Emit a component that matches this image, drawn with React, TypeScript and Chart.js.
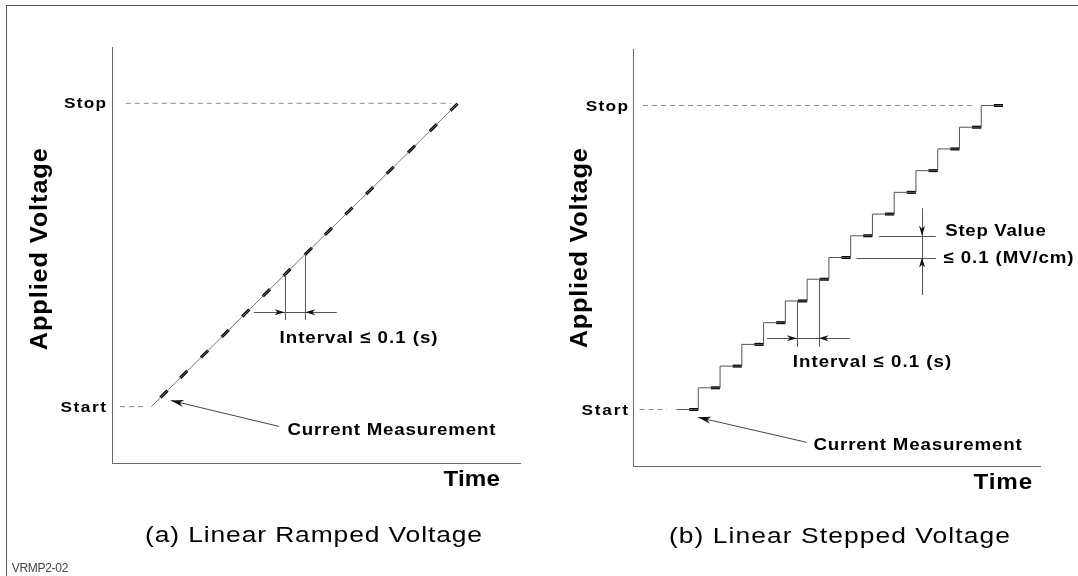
import React, { useEffect, useRef } from 'react';
import { Chart, registerables } from 'chart.js';

Chart.register(...registerables);

// ---------------- shared axis values ----------------
const voltageTickValues = [0, 14];
const voltageTickLabels = ['Start', 'Stop'];
const timeMin = 0;
const timeMax = 18.7;
const voltageMin = -2.6;
const voltageMax = 16.6;

// ---------------- (a) linear ramped voltage ----------------
const rampTimes = [1.8, 15.85];
const rampVolts = [0, 14];
const rampMeasureTimes = [2.38, 3.29, 4.24, 5.19, 6.13, 7.08, 8.02, 9.0, 9.92, 10.86, 11.81, 12.75, 13.73, 14.73, 15.67];
const rampMeasureVolts = [0.58, 1.49, 2.43, 3.38, 4.32, 5.26, 6.2, 7.17, 8.09, 9.03, 9.97, 10.91, 11.89, 12.88, 13.82];
const rampStartGuideTimes = [0.37, 1.51];
const rampStopGuideTimes = [0.63, 15.54];

// ---------------- (b) linear stepped voltage ----------------
const stepTimes = [2, 3, 4, 5, 6, 7, 8, 9, 10, 11, 12, 13, 14, 15, 16, 17];
const stepVolts = [0, 1, 2, 3, 4, 5, 6, 7, 8, 9, 10, 11, 12, 13, 14, 14];
const stepMeasureTimes = [2.79, 3.79, 4.79, 5.79, 6.79, 7.79, 8.79, 9.79, 10.79, 11.79, 12.79, 13.79, 14.79, 15.79, 16.79];
const stepMeasureVolts = [0, 1, 2, 3, 4, 5, 6, 7, 8, 9, 10, 11, 12, 13, 14];
const stepStartGuideTimes = [0.3, 1.56];
const stepStopGuideTimes = [0.46, 15.57];

// ---------------- texts ----------------
const yTitle = 'Applied Voltage';
const xTitle = 'Time';
const captionA = '(a) Linear Ramped Voltage';
const captionB = '(b) Linear Stepped Voltage';
const intervalText = 'Interval \u2264 0.1 (s)';
const measureText = 'Current Measurement';
const stepText1 = 'Step Value';
const stepText2 = '\u2264 0.1 (MV/cm)';
const figureId = 'VRMP2-02';

const FONT = '"Liberation Sans", Arial, Helvetica, sans-serif';
const AXIS = '#6a6a6a';
const W = 539;
const H = 576;

const pts = (xs: number[], ys: number[]) => xs.map((x, i) => ({ x, y: ys[i] }));

function drawLabel(ctx: any, text: string, x: number, y: number, o: any) {
  ctx.save();
  ctx.font = `${o.weight ?? 'bold'} ${o.size}px ${FONT}`;
  ctx.fillStyle = o.color ?? '#000';
  ctx.textBaseline = 'middle';
  ctx.textAlign = 'left';
  const sx = o.stretch ?? 1.1;
  ctx.letterSpacing = '0px';
  const natural = ctx.measureText(text).width;
  let total = natural * sx;
  if (o.width) {
    const ls = (o.width / sx - natural) / Math.max(1, text.length - 1);
    ctx.letterSpacing = `${ls}px`;
    total = o.width;
  }
  ctx.translate(x, y);
  if (o.rotate) ctx.rotate(-Math.PI / 2);
  const start = o.align === 'center' ? -total / 2 : o.align === 'right' ? -total : 0;
  ctx.scale(sx, 1);
  ctx.fillText(text, start / sx, 0);
  ctx.restore();
}

function makeDiagramPlugin(p: any) {
  return {
    id: 'diagram-' + p.key,
    afterDraw(chart: any) {
      const { ctx, chartArea: ca, scales } = chart;
      const X = (t: number) => scales.x.getPixelForValue(t);
      const Y = (v: number) => scales.y.getPixelForValue(v);
      const crisp = (v: number) => Math.round(v) + 0.5;

      ctx.save();
      ctx.lineWidth = 1;
      for (const s of p.segments) {
        let x1 = X(s.t1), y1 = Y(s.v1), x2 = X(s.t2), y2 = Y(s.v2);
        if (s.t1 === s.t2) { x1 = x2 = crisp(x1); }
        if (s.v1 === s.v2) { y1 = y2 = crisp(y1); }
        ctx.strokeStyle = s.color ?? '#555';
        ctx.beginPath();
        ctx.moveTo(x1, y1);
        ctx.lineTo(x2, y2);
        ctx.stroke();
      }
      for (const h of p.heads) {
        const tx = X(h.t), ty = Y(h.v);
        const fx = X(h.ft), fy = Y(h.fv);
        const a = Math.atan2(ty - fy, tx - fx);
        const len = h.len ?? 10;
        const half = h.half ?? 3;
        ctx.fillStyle = '#111';
        ctx.beginPath();
        ctx.moveTo(tx, ty);
        ctx.lineTo(tx - len * Math.cos(a) + half * Math.sin(a), ty - len * Math.sin(a) - half * Math.cos(a));
        ctx.lineTo(tx - len * 0.7 * Math.cos(a), ty - len * 0.7 * Math.sin(a));
        ctx.lineTo(tx - len * Math.cos(a) - half * Math.sin(a), ty - len * Math.sin(a) + half * Math.cos(a));
        ctx.closePath();
        ctx.fill();
      }
      ctx.restore();

      voltageTickValues.forEach((v, i) => {
        drawLabel(ctx, voltageTickLabels[i], ca.left - p.tickGap, Y(v) + 1, {
          size: 15, width: p.tickWidths[i], align: 'right', stretch: 1.15,
        });
      });

      for (const tx of p.texts) {
        drawLabel(ctx, tx.text, X(tx.t), Y(tx.v), { size: tx.size, width: tx.width, align: 'left', stretch: 1.1 });
      }

      const midY = (ca.top + ca.bottom) / 2;
      const midX = (ca.left + ca.right) / 2;
      drawLabel(ctx, yTitle, ca.left + p.yTitle.dx, midY + p.yTitle.dy, {
        size: 23, width: p.yTitle.width, align: 'center', rotate: true, stretch: 1.1,
      });
      drawLabel(ctx, xTitle, ca.right + p.xTitle.dx, ca.bottom + p.xTitle.dy, {
        size: 22, width: p.xTitle.width, align: 'left', stretch: 1.1,
      });
      drawLabel(ctx, p.caption.text, midX + p.caption.dx, ca.bottom + p.caption.dy, {
        size: 22, weight: 'normal', width: p.caption.width, align: 'center', stretch: 1.2,
      });
      if (p.figureId) {
        drawLabel(ctx, figureId, p.figureId.x, p.figureId.y, {
          size: 12, weight: 'normal', width: p.figureId.width, align: 'left', color: '#444', stretch: 1,
        });
      }
    },
  };
}

const guide = (xs: number[], v: number) => ({
  data: pts(xs, [v, v]),
  borderColor: '#888',
  borderWidth: 1,
  borderDash: [5, 4],
  pointRadius: 0,
  fill: false,
});

const panelA = {
  key: 'a',
  left: 0,
  area: { left: 112, right: 520, top: 47, bottom: 463 },
  tickGap: 6,
  tickWidths: [45.5, 42],
  yTitle: { dx: -71.4, dy: -5.8, width: 202 },
  xTitle: { dx: -76.5, dy: 16.5, width: 56.5 },
  caption: { text: captionA, dx: -2.5, dy: 73, width: 337 },
  figureId: { x: 11.7, y: 568.3, width: 56.6 },
  datasets: [
    { data: pts(rampTimes, rampVolts), borderColor: '#777', borderWidth: 1, pointRadius: 0, fill: false },
    {
      data: pts(rampMeasureTimes, rampMeasureVolts), showLine: false,
      pointStyle: 'line', pointRadius: 5, pointBorderWidth: 3, pointBorderColor: '#000',
      pointBackgroundColor: '#000', pointRotation: -44.7,
    },
    guide(rampStartGuideTimes, 0),
    guide(rampStopGuideTimes, 14),
  ],
  segments: [
    { t1: 7.91, v1: 6.1, t2: 7.91, v2: 4.0 },
    { t1: 8.86, v1: 7.03, t2: 8.86, v2: 4.0 },
    { t1: 6.51, v1: 4.36, t2: 10.3, v2: 4.36 },
    { t1: 7.65, v1: -0.91, t2: 2.7, v2: 0.285, color: '#444' },
  ],
  heads: [
    { t: 7.91, v: 4.36, ft: 6.51, fv: 4.36 },
    { t: 8.86, v: 4.36, ft: 10.3, fv: 4.36 },
    { t: 2.7, v: 0.285, ft: 7.65, fv: -0.91, len: 13, half: 3.5 },
  ],
  texts: [
    { text: intervalText, t: 7.68, v: 3.16, size: 17, width: 158 },
    { text: measureText, t: 8.04, v: -1.07, size: 17, width: 208 },
  ],
};

const panelB = {
  key: 'b',
  left: 539,
  area: { left: 94, right: 501, top: 49, bottom: 466 },
  tickGap: 5,
  tickWidths: [46.5, 42.3],
  yTitle: { dx: -52.7, dy: -9.2, width: 200 },
  xTitle: { dx: -66.4, dy: 16.5, width: 58.5 },
  caption: { text: captionB, dx: 2.9, dy: 70.7, width: 341 },
  figureId: null,
  datasets: [
    { data: pts(stepTimes, stepVolts), stepped: true, borderColor: '#555', borderWidth: 1, pointRadius: 0, fill: false },
    {
      data: pts(stepMeasureTimes, stepMeasureVolts), showLine: false,
      pointStyle: 'line', pointRadius: 4.6, pointBorderWidth: 3, pointBorderColor: '#000',
      pointBackgroundColor: '#000', pointRotation: 0,
    },
    guide(stepStartGuideTimes, 0),
    guide(stepStopGuideTimes, 14),
  ],
  segments: [
    { t1: 7.53, v1: 5, t2: 7.53, v2: 2.89 },
    { t1: 8.53, v1: 6, t2: 8.53, v2: 2.89 },
    { t1: 6.16, v1: 3.28, t2: 9.95, v2: 3.28 },
    { t1: 11.3, v1: 8, t2: 13.91, v2: 8 },
    { t1: 10.27, v1: 7, t2: 13.91, v2: 7 },
    { t1: 13.28, v1: 9.27, t2: 13.28, v2: 5.27 },
    { t1: 7.98, v1: -1.51, t2: 2.99, v2: -0.36, color: '#444' },
  ],
  heads: [
    { t: 7.53, v: 3.28, ft: 6.16, fv: 3.28 },
    { t: 8.53, v: 3.28, ft: 9.95, fv: 3.28 },
    { t: 13.28, v: 8, ft: 13.28, fv: 9.27 },
    { t: 13.28, v: 7, ft: 13.28, fv: 5.27 },
    { t: 2.99, v: -0.36, ft: 7.98, fv: -1.51, len: 13, half: 3.5 },
  ],
  texts: [
    { text: intervalText, t: 7.34, v: 2.16, size: 17, width: 158.4 },
    { text: measureText, t: 8.29, v: -1.63, size: 17, width: 208.3 },
    { text: stepText1, t: 14.35, v: 8.19, size: 17, width: 100.5 },
    { text: stepText2, t: 14.27, v: 6.96, size: 17, width: 130 },
  ],
};

function buildConfig(p: any): any {
  const axisCommon = {
    type: 'linear',
    ticks: { display: false },
    grid: { display: false },
    border: { display: true, color: AXIS, width: 1 },
  };
  return {
    type: 'line',
    data: { datasets: p.datasets },
    options: {
      responsive: false,
      animation: false,
      events: [],
      layout: { padding: { top: p.area.top, right: W - p.area.right, left: 0, bottom: 0 } },
      plugins: { legend: { display: false }, tooltip: { enabled: false }, title: { display: false } },
      scales: {
        x: {
          ...axisCommon, min: timeMin, max: timeMax,
          afterFit: (s: any) => { s.height = H - p.area.bottom; },
        },
        y: {
          ...axisCommon, min: voltageMin, max: voltageMax,
          afterFit: (s: any) => { s.width = p.area.left; },
        },
      },
    },
    plugins: [makeDiagramPlugin(p)],
  };
}

function Panel({ panel }: { panel: any }) {
  const ref = useRef<HTMLCanvasElement>(null);
  useEffect(() => {
    const chart = new Chart(ref.current as HTMLCanvasElement, buildConfig(panel));
    return () => chart.destroy();
  }, [panel]);
  return (
    <canvas
      ref={ref}
      width={W}
      height={H}
      style={{ position: 'absolute', left: panel.left, top: 0, width: W, height: H }}
    />
  );
}

export default function App() {
  return (
    <div style={{ position: 'absolute', left: 0, top: 0, width: 1078, height: 576, background: '#fff', overflow: 'hidden' }}>
      <div
        style={{
          position: 'absolute', left: 6, top: 5, right: 0, bottom: 0,
          borderTop: '1px solid #555', borderLeft: '1px solid #555',
        }}
      />
      <Panel panel={panelA} />
      <Panel panel={panelB} />
    </div>
  );
}
